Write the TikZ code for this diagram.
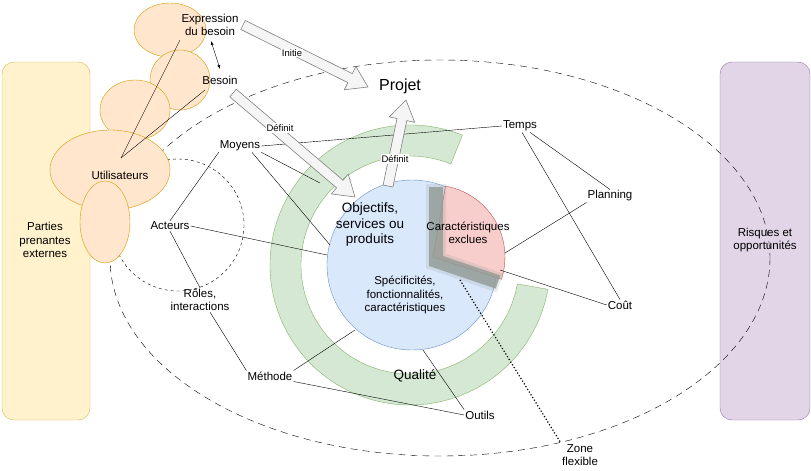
\documentclass[tikz,border=0pt]{standalone}
\usepackage{fontspec}
\setmainfont{Liberation Sans}
\usetikzlibrary{calc,arrows.meta}
\definecolor{orfill}{HTML}{FFE6CC}
\definecolor{ordraw}{HTML}{D79B00}
\definecolor{yefill}{HTML}{FFF2CC}
\definecolor{yedraw}{HTML}{D6B656}
\definecolor{pufill}{HTML}{E1D5E7}
\definecolor{pudraw}{HTML}{9673A6}
\definecolor{blfill}{HTML}{DAE8FC}
\definecolor{bldraw}{HTML}{6C8EBF}
\definecolor{grfill}{HTML}{D5E8D4}
\definecolor{grdraw}{HTML}{82B366}
\definecolor{refill}{HTML}{F8CECC}
\definecolor{redraw}{HTML}{B85450}
\definecolor{flexgray}{HTML}{8F9A95}
\tikzset{
  lbl/.style={font=\fontsize{11.5}{13.5}\selectfont, align=center, inner sep=1pt},
  blob/.style={fill=orfill, draw=ordraw},
  fat/.style={draw=gray, fill=gray!8, line width=0.6pt},
  tag/.style={font=\fontsize{9.5}{11}\selectfont, fill=white, inner sep=1pt}
}
\newcommand{\fatarrow}[2]{%
  \coordinate (h) at ($(#2)!20pt!(#1)$);
  \draw[fat] ($(#1)!5pt!90:(#2)$) -- ($(h)!5pt!-90:(#1)$) -- ($(h)!13pt!-90:(#1)$)
    -- (#2) -- ($(h)!13pt!90:(#1)$) -- ($(h)!5pt!90:(#1)$) -- ($(#1)!5pt!-90:(#2)$) -- cycle;}
\begin{document}
\begin{tikzpicture}[x=1pt,y=-1pt]
\useasboundingbox (0,0) rectangle (811,471);
% side boxes
\draw[fill=yefill, draw=yedraw, rounded corners=12pt] (2,62) rectangle (90,420);
\node[lbl] (parties) at (45,240) {Parties\\prenantes\\externes};
\draw[fill=pufill, draw=pudraw, rounded corners=12pt] (720,62) rectangle (810,420);
\node[lbl] (risques) at (765,240) {Risques et\\opportunités};
% scope
\draw[dashed, dash pattern=on 7pt off 5pt] (440,258) ellipse (330 and 198);
\draw[dashed] (178,225) circle (66);
% users
\draw[blob] (170,30) ellipse (36 and 27);
\draw[blob] (180,80) ellipse (30 and 30);
\draw[blob] (135,110) ellipse (35 and 30);
\draw[blob] (110,170) ellipse (60 and 40);
\draw[blob] (105,222) ellipse (25 and 41);
\node[lbl] (expr) at (210,25) {Expression\\du besoin};
\node[lbl] (besoin) at (220,80) {Besoin};
\node[lbl] (users) at (120,175) {Utilisateurs};
\coordinate (u) at (121,158);
\draw (u) -- (180,40);
\draw (u) -- (205,90);
\draw[{Latex[length=4pt]}-{Latex[length=4pt]}] (211,41) -- (220,69);
% core
\draw[fill=grfill, draw=grdraw] (410,265) ++(-68:140) arc (-68:-350:140) -- ++(-170:31) arc (-350:-68:109) -- cycle;
\draw[fill=blfill, draw=bldraw] (412,265) circle (85);
\draw[fill=refill, draw=redraw] (433,257) -- ++(-80:72) arc (-80:18:72) -- cycle;
\draw[line width=20pt, flexgray, opacity=0.2, line join=miter] (436,184) -- (436,261) -- (500,283);
\draw[line width=14pt, flexgray, opacity=0.8, line join=miter] (436,187) -- (436,261) -- (498,282);
\node[lbl, font=\fontsize{13.5}{15.5}\selectfont] (objectifs) at (370,225) {Objectifs,\\services ou\\produits};
\node[lbl] (exclues) at (468,233) {Caractéristiques\\exclues};
\node[lbl] (specs) at (405,295) {Spécificités,\\fonctionnalités,\\caractéristiques};
\node[lbl, font=\fontsize{13.5}{15.5}\selectfont] (qualite) at (415,376) {Qualité};
\node[lbl, font=\fontsize{16}{18}\selectfont] (projet) at (400,86) {Projet};
% constraints
\node[lbl] (temps) at (520,126) {Temps};
\node[lbl] (moyens) at (240,146) {Moyens};
\node[lbl] (acteurs) at (170,226) {Acteurs};
\node[lbl] (roles) at (200,300) {Rôles,\\interactions};
\node[lbl] (methode) at (270,376) {Méthode};
\node[lbl] (outils) at (480,415) {Outils};
\node[lbl] (cout) at (620,305) {Coût};
\node[lbl] (planning) at (610,196) {Planning};
\node[lbl] (zone) at (580,455) {Zone\\flexible};
\draw (moyens.east) -- (temps.west);
\draw (moyens.south west) -- (acteurs.north);
\draw (moyens.south) ++(12,0) -- (330,245);
\draw (moyens.south east) -- (320,183);
\draw (temps.south) ++(10,0) -- (planning.north);
\draw (temps.south) ++(2,0) -- (cout.north);
\draw (505,253) -- (planning.south west);
\draw (500,270) -- (cout.west);
\draw (acteurs.east) -- (327,255);
\draw (acteurs.south) -- (roles.north);
\draw (roles.south) ++(10,0) -- (methode.north west);
\draw (methode.north east) -- (355,330);
\draw (methode.south east) -- (outils.west);
\draw (outils.north west) -- (423,350);
\draw[dotted, line width=1.2pt] (460,280) -- (zone.north west);
% arrows
\coordinate (a1) at (243,25); \coordinate (a1e) at (368,87);
\fatarrow{a1}{a1e}
\node[tag] (initie) at (292,53) {Initie};
\coordinate (a2) at (233,93); \coordinate (a2e) at (355,197);
\fatarrow{a2}{a2e}
\node[tag] (def1) at (280,128) {Définit};
\coordinate (a3) at (388,186); \coordinate (a3e) at (406,100);
\fatarrow{a3}{a3e}
\node[tag] (def2) at (395,159) {Définit};
\end{tikzpicture}
\end{document}
